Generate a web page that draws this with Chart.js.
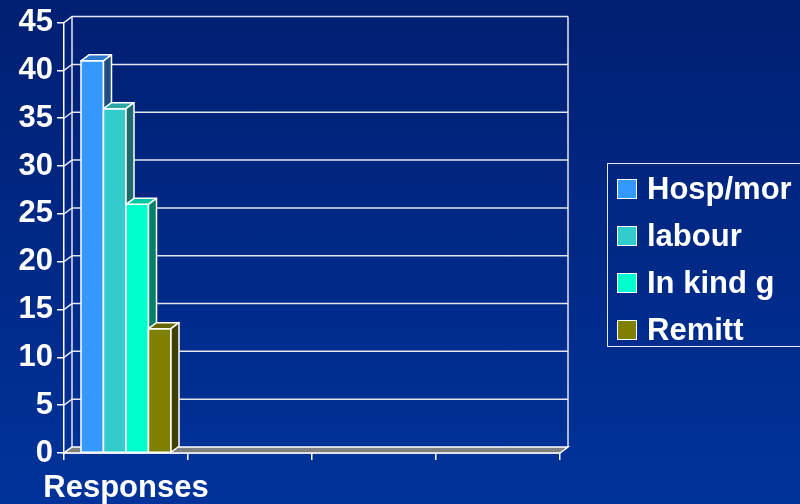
<!DOCTYPE html>
<html>
<head>
<meta charset="utf-8">
<script src="https://cdn.jsdelivr.net/npm/chart.js@4"></script>
<style>
  html, body { margin: 0; padding: 0; width: 800px; height: 504px; overflow: hidden; }
  body { background: linear-gradient(#001f72, #00339a); position: relative; font-family: "Liberation Sans", Arial, sans-serif; }
  #wrap { position: absolute; left: 0; top: 0; width: 800px; height: 504px; }
  #legend { position: absolute; left: 607px; top: 163px; width: 220px; height: 184px; border: 1.5px solid #e8e8f0; box-sizing: border-box; color: #fff; font-weight: bold; font-size: 31px; }
  .item { position: absolute; left: 9px; height: 36px; line-height: 36px; white-space: nowrap; }
  .box { display: inline-block; width: 20px; height: 20px; border: 1.5px solid #fff; box-sizing: border-box; vertical-align: middle; margin-right: 10px; position: relative; top: -2px; }
</style>
</head>
<body>
<div id="wrap"><canvas id="chart" width="800" height="504"></canvas></div>
<div id="legend"></div>
<script>
// --- Data ---
const categories = ["Responses", "", "", ""];
const seriesNames = ["Hosp/mor", "labour", "In kind g", "Remitt"];
const hospValues = [41, null, null, null];
const labourValues = [36, null, null, null];
const inKindValues = [26, null, null, null];
const remittValues = [13, null, null, null];
const yTicks = [0, 5, 10, 15, 20, 25, 30, 35, 40, 45];

// --- Colours (front, top, side) ---
const fronts = ["#3399ff", "#33cccc", "#00ffcc", "#808000"];
const tops = ["#2b7bd0", "#2aa6a6", "#00c9a2", "#666600"];
const sides = ["#1f4f80", "#1f6b6b", "#008066", "#404000"];

const DX = 8, DY = -6;
const FONT = '"Liberation Sans", Arial, sans-serif';

// --- Legend (html) ---
const legendEl = document.getElementById("legend");
legendEl.innerHTML = seriesNames.map((n, i) => `
  <div class="item" style="top:${7 + i * 47}px"><span class="box" style="background:${fronts[i]}"></span>${n}</div>
`).join('');

function poly(ctx, pts, fill) {
  ctx.beginPath();
  ctx.moveTo(pts[0][0], pts[0][1]);
  for (let k = 1; k < pts.length; k++) ctx.lineTo(pts[k][0], pts[k][1]);
  ctx.closePath();
  if (fill) { ctx.fillStyle = fill; ctx.fill(); }
  ctx.stroke();
}

// --- 3D walls behind the bars ---
const wallsPlugin = {
  id: 'walls',
  beforeDatasetsDraw(chart) {
    const ctx = chart.ctx, a = chart.chartArea, y = chart.scales.y;
    ctx.save();
    ctx.strokeStyle = "#e6e6ee";
    ctx.lineWidth = 1.5;
    yTicks.forEach(v => {
      const py = y.getPixelForValue(v);
      ctx.beginPath();
      ctx.moveTo(a.left, py);
      ctx.lineTo(a.left + DX, py + DY);
      if (v > 0) ctx.lineTo(a.right + DX, py + DY);
      ctx.stroke();
    });
    ctx.beginPath();
    ctx.moveTo(a.left + DX, a.top + DY); ctx.lineTo(a.left + DX, a.bottom + DY);
    ctx.moveTo(a.right + DX, a.top + DY); ctx.lineTo(a.right + DX, a.bottom + DY);
    ctx.stroke();
    ctx.strokeStyle = "#ffffff";
    poly(ctx, [[a.left, a.bottom], [a.right, a.bottom], [a.right + DX, a.bottom + DY], [a.left + DX, a.bottom + DY]], "#808080");
    ctx.restore();
  },
  // redraw each bar in order with its top and side faces
  afterDatasetsDraw(chart) {
    const ctx = chart.ctx;
    ctx.save();
    ctx.strokeStyle = "#ffffff";
    ctx.lineWidth = 1.5;
    ctx.lineJoin = "round";
    chart.data.datasets.forEach((ds, i) => {
      const meta = chart.getDatasetMeta(i);
      meta.data.forEach((bar, j) => {
        if (ds.data[j] == null) return;
        const p = bar.getProps(['x', 'y', 'base', 'width'], true);
        const l = p.x - p.width / 2, r = p.x + p.width / 2;
        poly(ctx, [[l, p.y], [r, p.y], [r, p.base], [l, p.base]], fronts[i]);
        poly(ctx, [[l, p.y], [r, p.y], [r + DX, p.y + DY], [l + DX, p.y + DY]], tops[i]);
        poly(ctx, [[r, p.y], [r + DX, p.y + DY], [r + DX, p.base + DY], [r, p.base]], sides[i]);
      });
    });
    ctx.restore();
  }
};

const allValues = [hospValues, labourValues, inKindValues, remittValues];
const dataSets = seriesNames.map((name, i) => ({
  label: name,
  data: allValues[i],
  backgroundColor: fronts[i],
  borderColor: "#ffffff",
  borderWidth: 1.5,
  categoryPercentage: 0.726,
  barPercentage: 1.0
}));

new Chart(document.getElementById("chart").getContext("2d"), {
  type: 'bar',
  data: { labels: categories, datasets: dataSets },
  plugins: [wallsPlugin],
  options: {
    responsive: false,
    animation: false,
    layout: { padding: { left: 0, top: 22, right: 240, bottom: 0 } },
    plugins: { legend: { display: false }, tooltip: { enabled: false } },
    scales: {
      x: {
        offset: true,
        grid: { offset: true, display: true, drawOnChartArea: false, drawTicks: true, tickLength: 7, color: "#ffffff", lineWidth: 1.5 },
        border: { display: true, color: "#ffffff", width: 1.5 },
        ticks: { color: "#ffffff", padding: 10, font: { family: FONT, size: 31, weight: 'bold' }, maxRotation: 0, autoSkip: false },
        afterFit(s) { s.height = 51; }
      },
      y: {
        min: 0, max: 45,
        afterBuildTicks(s) { s.ticks = yTicks.map(v => ({ value: v })); },
        grid: { display: true, drawOnChartArea: false, drawTicks: true, tickLength: 7, color: "#ffffff", lineWidth: 1.5 },
        border: { display: true, color: "#ffffff", width: 1.5 },
        ticks: { color: "#ffffff", padding: 4, font: { family: FONT, size: 31, weight: 'bold' } },
        afterFit(s) { s.width = 64; }
      }
    }
  }
});
</script>
</body>
</html>
